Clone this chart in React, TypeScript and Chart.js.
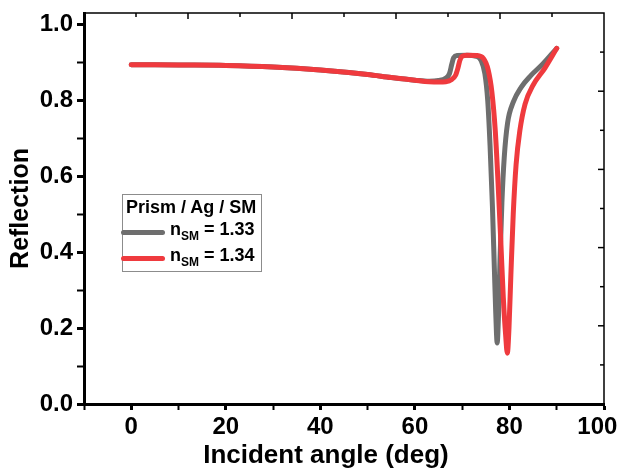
import React, { useEffect, useRef } from "react";
import { Chart, registerables } from "chart.js";
Chart.register(...registerables);

// n_SM = 1.33 (gray)
const angles133 = [0, 10, 20, 30, 40, 50, 55, 60, 63, 65, 66.5, 67.3, 67.8, 68.2, 69, 71, 73, 74, 74.8, 75.4, 75.9, 76.4, 76.8, 77.1, 77.4, 77.7, 78.0, 78.4, 78.9, 79.6, 80.8, 82.5, 84.5, 87, 90];
const refl133 = [0.894, 0.893, 0.892, 0.888, 0.880, 0.868, 0.860, 0.853, 0.850, 0.852, 0.858, 0.870, 0.895, 0.912, 0.918, 0.919, 0.916, 0.905, 0.87, 0.80, 0.68, 0.52, 0.36, 0.24, 0.161, 0.24, 0.38, 0.53, 0.65, 0.74, 0.795, 0.835, 0.865, 0.895, 0.937];

// n_SM = 1.34 (red)
const angles134 = [0, 10, 20, 30, 40, 50, 55, 60, 63, 65, 66.5, 67.8, 68.6, 69.1, 69.5, 70, 71, 73, 74.5, 75.5, 76.3, 77.0, 77.6, 78.2, 78.7, 79.2, 79.55, 79.9, 80.3, 80.8, 81.4, 82.2, 83.3, 85, 87.5, 90];
const refl134 = [0.894, 0.893, 0.892, 0.888, 0.880, 0.868, 0.860, 0.853, 0.849, 0.848, 0.849, 0.855, 0.866, 0.885, 0.905, 0.916, 0.919, 0.918, 0.91, 0.88, 0.82, 0.72, 0.58, 0.42, 0.28, 0.18, 0.134, 0.2, 0.34, 0.5, 0.63, 0.72, 0.79, 0.84, 0.885, 0.937];

const xTickValues = [-10, 0, 10, 20, 30, 40, 50, 60, 70, 80, 90, 100];
const yTickValues = [0, 0.1, 0.2, 0.3, 0.4, 0.5, 0.6, 0.7, 0.8, 0.9, 1.0];

const FONT = "'Liberation Sans', Arial, sans-serif";
const GRAY = "#6e6e6e";
const RED = "#ef3a3e";

const framePlugin = {
  id: "frame",
  afterDraw(chart: any) {
    const { ctx, chartArea } = chart;
    const { left, right, top, bottom } = chartArea;
    ctx.save();
    ctx.strokeStyle = "#000";
    ctx.lineWidth = 1.5;
    ctx.beginPath();
    ctx.moveTo(left, top);
    ctx.lineTo(right, top);
    ctx.lineTo(right, bottom);
    ctx.stroke();
    const n = 10;
    for (let i = 1; i < n; i++) {
      const len = i % 2 === 0 ? 6 : 4;
      const x = left + ((right - left) * i) / n;
      ctx.beginPath();
      ctx.moveTo(x, top);
      ctx.lineTo(x, top + len);
      ctx.stroke();
      const y = top + ((bottom - top) * i) / n;
      ctx.beginPath();
      ctx.moveTo(right, y);
      ctx.lineTo(right - len, y);
      ctx.stroke();
    }
    ctx.restore();
  },
};

export default function App() {
  const ref = useRef<HTMLCanvasElement | null>(null);
  useEffect(() => {
    if (!ref.current) return;
    const chart = new Chart(ref.current, {
      type: "line",
      data: {
        datasets: [
          {
            label: "n_SM = 1.34",
            data: angles134.map((a, i) => ({ x: a, y: refl134[i] })),
            borderColor: RED,
            borderWidth: 5,
            pointRadius: 0,
            cubicInterpolationMode: "monotone",
            borderCapStyle: "round",
            borderJoinStyle: "round",
            order: 0,
          },
          {
            label: "n_SM = 1.33",
            data: angles133.map((a, i) => ({ x: a, y: refl133[i] })),
            borderColor: GRAY,
            borderWidth: 5,
            pointRadius: 0,
            cubicInterpolationMode: "monotone",
            borderCapStyle: "round",
            borderJoinStyle: "round",
            order: 1,
          },
        ],
      },
      options: {
        responsive: false,
        animation: false,
        layout: { padding: { top: 13, right: 14, left: 0, bottom: 0 } },
        plugins: { legend: { display: false }, tooltip: { enabled: false } },
        scales: {
          x: {
            type: "linear",
            min: -10,
            max: 100,
            afterBuildTicks: (s: any) => {
              s.ticks = xTickValues.map((v) => ({ value: v }));
            },
            afterFit: (s: any) => {
              s.height = 67;
              s.paddingLeft = 0;
              s.paddingRight = 0;
            },
            ticks: {
              autoSkip: false,
              maxRotation: 0,
              padding: 3,
              color: "#000",
              font: { family: FONT, size: 24, weight: "bold" },
              callback: (v: any) => {
                const n = Number(v);
                if (n % 20 !== 0) return "";
                return n === 100 ? "100  " : String(n);
              },
            },
            grid: {
              drawOnChartArea: false,
              drawTicks: true,
              tickLength: 6,
              tickColor: "#000",
              tickWidth: (c: any) => (c.tick && c.tick.value % 20 === 0 ? 3 : 2),
            },
            border: { display: true, color: "#000", width: 3 },
            title: {
              display: true,
              text: "Incident angle (deg)     ",
              color: "#000",
              font: { family: FONT, size: 26, weight: "bold" },
              padding: { top: 0, bottom: 0 },
            },
          },
          y: {
            type: "linear",
            min: 0,
            max: 1.03,
            afterBuildTicks: (s: any) => {
              s.ticks = yTickValues.map((v) => ({ value: v }));
            },
            afterFit: (s: any) => {
              s.width = 84;
              s.paddingTop = 0;
              s.paddingBottom = 0;
            },
            ticks: {
              autoSkip: false,
              padding: 4,
              color: "#000",
              font: { family: FONT, size: 24, weight: "bold" },
              callback: (v: any) => {
                const k = Math.round(Number(v) * 10);
                return k % 2 === 0 ? (k / 10).toFixed(1) : "";
              },
            },
            grid: {
              drawOnChartArea: false,
              drawTicks: true,
              tickLength: 7,
              tickColor: "#000",
              tickWidth: (c: any) => (c.tick && Math.round(c.tick.value * 10) % 2 === 0 ? 3 : 2),
            },
            border: { display: true, color: "#000", width: 3 },
            title: {
              display: true,
              text: "Reflection",
              color: "#000",
              font: { family: FONT, size: 25, weight: "bold" },
              padding: { top: 6, bottom: 0 },
            },
          },
        },
      },
      plugins: [framePlugin],
    } as any);
    return () => chart.destroy();
  }, []);

  const legendText: React.CSSProperties = {
    position: "absolute",
    fontFamily: FONT,
    fontWeight: "bold",
    fontSize: 18,
    color: "#000",
    whiteSpace: "nowrap",
    lineHeight: "20px",
  };
  const sub: React.CSSProperties = { fontSize: 12, position: "relative", top: 5, verticalAlign: "baseline" };

  return (
    <div style={{ position: "fixed", left: 0, top: 0, width: 618, height: 471, background: "#fff" }}>
      <canvas ref={ref} width={618} height={471} style={{ width: 618, height: 471, display: "block" }} />
      <div
        style={{
          position: "absolute",
          left: 122,
          top: 194,
          width: 140,
          height: 78,
          border: "1.5px solid #8c8c8c",
          boxSizing: "border-box",
          background: "#fff",
        }}
      />
      <div style={{ ...legendText, left: 126, top: 197 }}>Prism / Ag / SM</div>
      <div style={{ position: "absolute", left: 121, top: 229.5, width: 44, height: 5, borderRadius: 2.5, background: GRAY }} />
      <div style={{ ...legendText, left: 170, top: 219 }}>
        n<span style={sub}>SM</span> = 1.33
      </div>
      <div style={{ position: "absolute", left: 121, top: 256, width: 44, height: 5, borderRadius: 2.5, background: RED }} />
      <div style={{ ...legendText, left: 170, top: 245 }}>
        n<span style={sub}>SM</span> = 1.34
      </div>
    </div>
  );
}
